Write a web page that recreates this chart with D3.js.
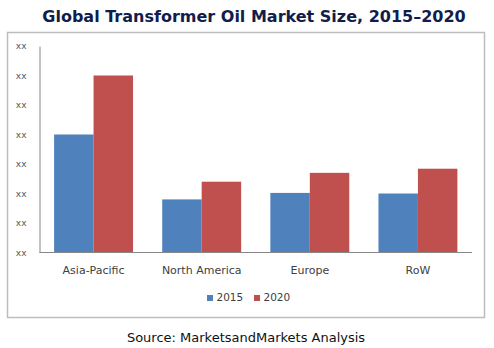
<!DOCTYPE html>
<html>
<head>
<meta charset="utf-8">
<script src="https://cdn.jsdelivr.net/npm/d3@7"></script>
<style>
  html, body { margin: 0; padding: 0; background: #fff; }
  svg { display: block; }
</style>
</head>
<body>
<svg id="chart" width="494" height="348"></svg>
<script>
// Market size by region (units undisclosed, axis labels masked as "xx")
const regions = ["Asia-Pacific", "North America", "Europe", "RoW"];
const years = ["2015", "2020"];
const values2015 = [4.0, 1.8, 2.02, 2.0];
const values2020 = [6.0, 2.4, 2.7, 2.84];
const tickValues = [0, 1, 2, 3, 4, 5, 6, 7];
const tickLabels = ["xx", "xx", "xx", "xx", "xx", "xx", "xx", "xx"];
const colors = ["#4f81bd", "#c0504d"];

const svg = d3.select("#chart");
const font = "Verdana, 'DejaVu Sans', sans-serif";

// Title
svg.append("text")
  .attr("x", 254).attr("y", 22)
  .attr("text-anchor", "middle")
  .attr("font-family", font)
  .attr("font-weight", "bold")
  .attr("font-size", 16)
  .attr("fill", "#111d4a")
  .text("Global Transformer Oil Market Size, 2015\u20132020");

// Chart frame
svg.append("rect")
  .attr("x", 7.5).attr("y", 32.5)
  .attr("width", 477).attr("height", 285)
  .attr("fill", "#fff")
  .attr("stroke", "#bdbdbd")
  .attr("stroke-width", 1.5);

const plot = { left: 39.5, right: 472, top: 46, bottom: 252.5 };

const x = d3.scaleBand()
  .domain(regions)
  .range([plot.left, plot.right])
  .paddingInner(0.27)
  .paddingOuter(0.135);

const xs = d3.scaleBand()
  .domain(years)
  .range([0, x.bandwidth()]);

const y = d3.scaleLinear()
  .domain([0, 7])
  .range([plot.bottom, plot.top]);

const data = regions.map((r, i) => ({ region: r, vals: [values2015[i], values2020[i]] }));

// Bars
const groups = svg.append("g").selectAll("g")
  .data(data).join("g")
  .attr("transform", d => `translate(${x(d.region)},0)`);

groups.selectAll("rect")
  .data(d => d.vals.map((v, j) => ({ year: years[j], v, j })))
  .join("rect")
  .attr("x", d => xs(d.year))
  .attr("width", xs.bandwidth())
  .attr("y", d => y(d.v))
  .attr("height", d => y(0) - y(d.v))
  .attr("fill", d => colors[d.j]);

// Y axis
const yAxis = d3.axisLeft(y)
  .tickValues(tickValues)
  .tickFormat((d, i) => tickLabels[i])
  .tickSize(0)
  .tickPadding(13);

const yg = svg.append("g")
  .attr("transform", `translate(${plot.left},0)`)
  .call(yAxis);
yg.select(".domain").attr("stroke", "#868686");
yg.selectAll("text")
  .attr("font-family", font)
  .attr("font-size", 9)
  .attr("fill", "#595959");

// X axis
const xAxis = d3.axisBottom(x).tickSize(0).tickPadding(14);
const xg = svg.append("g")
  .attr("transform", `translate(0,${plot.bottom})`)
  .call(xAxis);
xg.select(".domain").attr("stroke", "#868686").attr("d", `M${plot.left},0H${plot.right}`);
xg.selectAll("text")
  .attr("font-family", font)
  .attr("font-size", 11)
  .attr("fill", "#404040");

// Legend
const legend = svg.append("g").selectAll("g")
  .data(years).join("g")
  .attr("transform", (d, i) => `translate(${207 + i * 47},295)`);
legend.append("rect")
  .attr("width", 6).attr("height", 6)
  .attr("fill", (d, i) => colors[i]);
legend.append("text")
  .attr("x", 9.5).attr("y", 6)
  .attr("font-family", font)
  .attr("font-size", 10.5)
  .attr("fill", "#404040")
  .text(d => d);

// Source note
svg.append("text")
  .attr("x", 246).attr("y", 342)
  .attr("text-anchor", "middle")
  .attr("font-family", font)
  .attr("font-size", 13)
  .attr("fill", "#111")
  .text("Source: MarketsandMarkets Analysis");
</script>
</body>
</html>
